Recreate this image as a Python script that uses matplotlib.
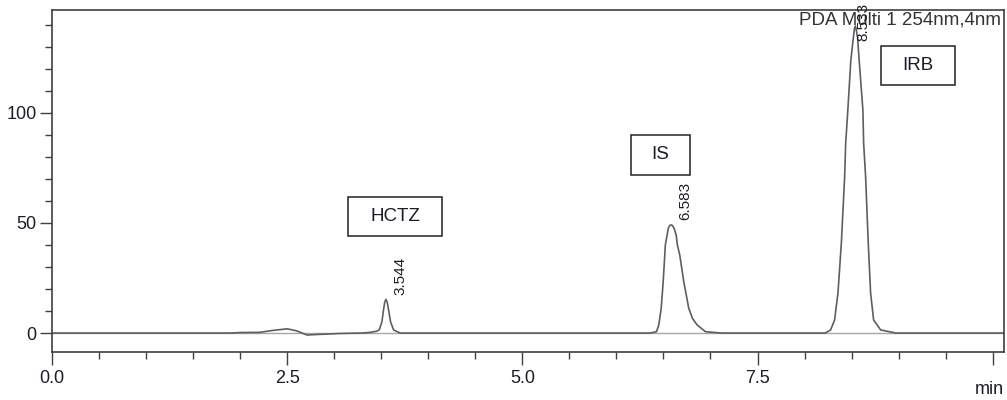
import matplotlib.pyplot as plt
from matplotlib.patches import Rectangle
from matplotlib.ticker import MultipleLocator

plt.rcParams['font.family'] = ['Liberation Sans', 'DejaVu Sans']

# chromatogram trace (time in min, signal in mAU)
time_min = [0.0, 1.9, 2.0, 2.21, 2.35, 2.5, 2.6, 2.71, 2.85, 3.06, 3.3, 3.383, 3.45,
            3.479, 3.507, 3.524, 3.537, 3.550, 3.563, 3.578, 3.599, 3.631, 3.70, 4.0,
            6.36, 6.426, 6.450, 6.476, 6.497, 6.514, 6.520, 6.539, 6.551, 6.570, 6.585,
            6.600, 6.615, 6.635, 6.648, 6.673, 6.716, 6.769, 6.81, 6.859, 6.947, 7.11,
            8.22, 8.277, 8.319, 8.355, 8.391, 8.426, 8.437, 8.460, 8.492, 8.518, 8.530,
            8.539, 8.548, 8.564, 8.580, 8.620, 8.628, 8.649, 8.677, 8.702, 8.734,
            8.809, 8.97, 10.12]
signal = [0, 0, 0.2, 0.3, 1.2, 1.9, 1.0, -0.9, -0.6, -0.2, 0, 0.3, 0.8,
          1.4, 5.1, 10.5, 14.0, 15.3, 14.0, 10.5, 5.1, 1.4, 0, 0,
          0, 0.6, 3.6, 11.2, 23.3, 35.5, 40.0, 44.5, 47.6, 49.0, 49.1,
          48.6, 47.3, 44.5, 40.0, 35.5, 23.3, 11.2, 6.5, 3.6, 0.6, 0,
          0, 1.4, 5.9, 18.2, 40.9, 71.0, 86.2, 101.4, 124.1, 134.0, 138.3,
          139.5, 138.3, 134.0, 124.1, 101.4, 86.2, 71.0, 40.9, 18.2, 5.9,
          1.4, 0, 0]

peak_times = ['3.544', '6.583', '8.533']
peak_names = ['HCTZ', 'IS', 'IRB']

W, H = 1007, 400
fig = plt.figure(figsize=(W / 100, H / 100), dpi=100)
ax = fig.add_axes([52 / W, (H - 351.5) / H, (1004 - 52) / W, (351.5 - 10) / H])

ax.axhline(0, color='#a8a8a8', lw=1.0, zorder=1)
ax.plot(time_min, signal, color='#5e5e5e', lw=1.2, zorder=2)

ax.set_xlim(0, 10.12)
ax.set_ylim(-8.4, 146.8)
ax.xaxis.set_minor_locator(MultipleLocator(0.5))
ax.yaxis.set_major_locator(MultipleLocator(50))
ax.yaxis.set_minor_locator(MultipleLocator(10))
ax.set_xticks([0, 2.5, 5, 7.5, 10])
ax.set_xticklabels(['0.0', '2.5', '5.0', '7.5', ''])

txt = '#1c1c28'
ax.tick_params(which='major', length=9, width=1, color='#404040', labelsize=13,
               labelcolor=txt)
ax.tick_params(axis='y', which='major', pad=2)
ax.tick_params(axis='x', which='major', pad=4)
ax.tick_params(which='minor', length=5, width=1, color='#404040')
for s in ax.spines.values():
    s.set_color('#404040')
    s.set_linewidth(1.2)

fig.text(1004 / W, 1 - 398 / H, 'min', ha='right', va='bottom',
         fontsize=13, color=txt)
ax.text(0.997, 0.997, 'PDA Multi 1 254nm,4nm', transform=ax.transAxes,
        ha='right', va='top', fontsize=13.5, color='#333333')

# retention time labels, rotated like the instrument software
lab_pos = [(3.70, 17.3), (6.729, 51.4), (8.62, 132.5)]
for rt, (x, y) in zip(peak_times, lab_pos):
    ax.text(x, y, rt, rotation=90, ha='center', va='bottom', fontsize=11, color=txt)

# boxed compound names (pixel boxes)
boxes = [(348, 197, 442, 236), (631, 135, 690, 175), (881, 46, 955, 85)]
for name, (x0, y0, x1, y1) in zip(peak_names, boxes):
    fig.add_artist(Rectangle((x0 / W, 1 - y1 / H), (x1 - x0) / W, (y1 - y0) / H,
                             transform=fig.transFigure, fill=False,
                             edgecolor='#222222', lw=1.1))
    fig.text((x0 + x1) / 2 / W, 1 - (y0 + y1) / 2 / H, name, ha='center',
             va='center', fontsize=13.5, color=txt)

fig.savefig('out.png', dpi=100)
